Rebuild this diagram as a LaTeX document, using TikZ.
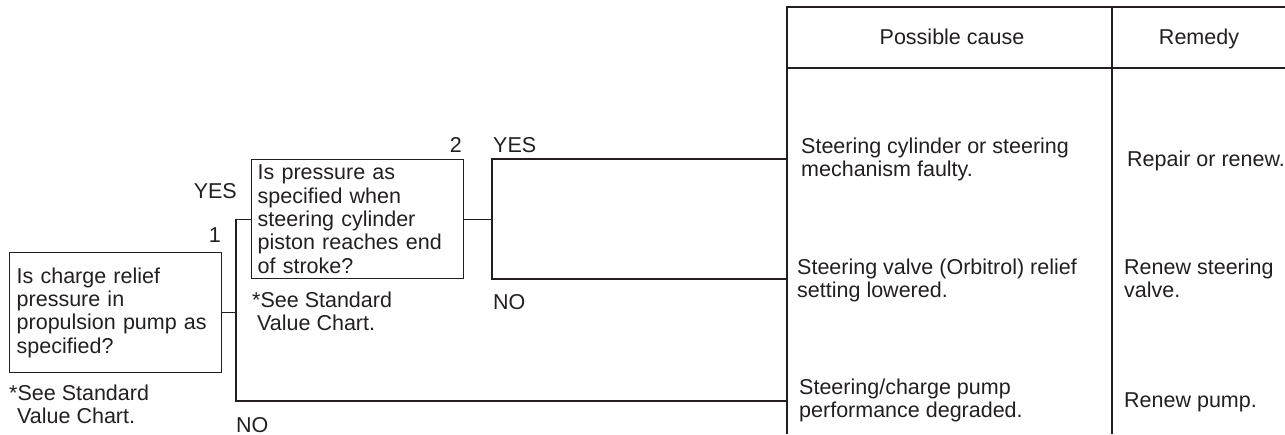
\documentclass[tikz,border=0pt]{standalone}
\usepackage{fontspec}
\setmainfont{Liberation Sans}
\definecolor{ink}{HTML}{231F20}
\begin{document}
\begin{tikzpicture}[x=1pt,y=-1pt,
  ln/.style={line width=1.4pt, draw=ink},
  qbox/.style={draw=ink, line width=1.4pt, inner xsep=7pt, inner ysep=0pt,
    align=left, anchor=north west, minimum height=120pt, minimum width=212pt,
    text width=198pt, text=ink, font=\fontsize{21.5}{23.3}\selectfont},
  txt/.style={inner sep=0pt, anchor=base west, align=left, text=ink,
    font=\fontsize{21.5}{23}\selectfont}]
\useasboundingbox (0,0) rectangle (1285,434);
% table frame
\draw[ln] (787,434) -- (787,7) -- (1285,7);
\draw[ln] (787,68) -- (1285,68);
\draw[ln] (1112,7) -- (1112,434);
\node[txt, anchor=base] (hc) at (952,44) {Possible cause};
\node[txt, anchor=base] (hr) at (1199,44) {Remedy};
% question boxes
\node[qbox] (q1) at (9,252) {Is charge relief\\pressure in\\propulsion pump as\\specified?};
\node[qbox, inner xsep=6pt, text width=200pt, minimum height=119pt] (q2) at (251,159)
  {Is pressure as\\specified when\\steering cylinder\\piston reaches end\\of stroke?};
% multi-line texts: base anchor is the baseline of the last line
\node[txt] (n1) at (9,423) {*See Standard\\\hspace*{8pt}Value Chart.};
\node[txt] (n2) at (252,330) {*See Standard\\\hspace*{5pt}Value Chart.};
\node[txt, anchor=base east] (l1) at (221,242) {1};
\node[txt, anchor=base east] (l2) at (462,152) {2};
\node[txt, anchor=base east] (y1) at (237,198) {YES};
\node[txt] (y2) at (493,152) {YES};
\node[txt] (no2) at (493,309) {NO};
\node[txt] (no1) at (236,432) {NO};
% causes and remedies
\node[txt] (c1) at (801,176) {Steering cylinder or steering\\mechanism faulty.};
\node[txt] (r1) at (1127,166) {Repair or renew.};
\node[txt] (c2) at (797,297) {Steering valve (Orbitrol) relief\\setting lowered.};
\node[txt] (r2) at (1124,297) {Renew steering\\valve.};
\node[txt] (c3) at (799,417) {Steering/charge pump\\performance degraded.};
\node[txt] (r3) at (1124,407) {Renew pump.};
% junction coordinates
\coordinate (ja) at (236,311);
\coordinate (jb) at (492,219);
\coordinate (t1) at (787,159);
\coordinate (t2) at (787,279);
\coordinate (t3) at (787,401);
% connectors
\draw[ln] (q1.east) -- (q1.east -| ja);
\draw[ln] (q2.west) -- (q2.west -| ja) -- (ja |- t3) -- (t3);
\draw[ln] (q2.east) -- (q2.east -| jb);
\draw[ln] (t1) -- (t1 -| jb) -- (t2 -| jb) -- (t2);
\end{tikzpicture}
\end{document}
